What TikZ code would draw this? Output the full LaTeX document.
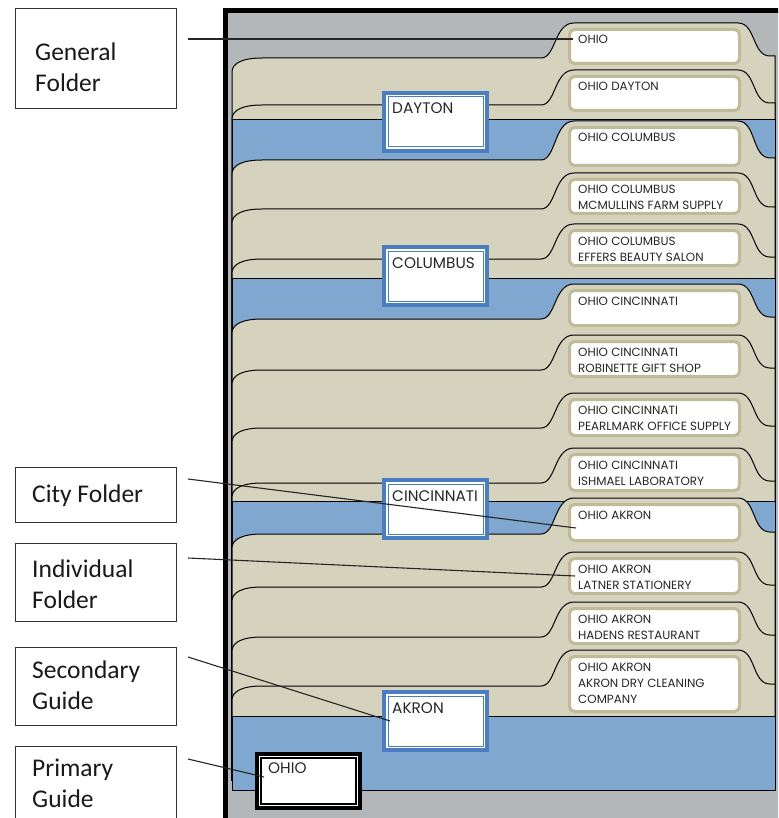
\documentclass[tikz,border=0pt]{standalone}
\usepackage{fontspec}
\setmainfont{Carlito}
\newfontfamily\geofont{Poppins}
\definecolor{bggray}{HTML}{B4B7B9}
\definecolor{foldertan}{HTML}{D5D3BD}
\definecolor{tabedge}{HTML}{BFBA97}
\definecolor{bandblue}{HTML}{80A7CF}
\definecolor{guideblue}{HTML}{4A7EC0}
% #1 body top, #2 tab top, #3 label bottom, #4 name, #5 text, #6 extra lines
\newcommand{\drawfolder}[6]{%
  \filldraw[folderfill] (232,780) -- (232,{#1+14}) .. controls (232,{#1+5}) and (243,#1) .. (262,#1)
    -- (541,#1) .. controls (556,#1) and (554,#2) .. (574,#2) -- (738,#2)
    .. controls (756,#2) and (752,{#1-2}) .. (770,{#1-2}) -- (775,{#1-2}) -- (775,780) -- cycle;
  \draw[tabbox] (569.5,{#2+6.5}) rectangle (739.5,{#3-1.5});
  \node[ftext] (#4) at (578,{#2+21+16*#6}) {#5};
}
\newcommand{\drawband}[1]{%
  \filldraw[bandfill] (232,#1) rectangle (775,790);
}
\newcommand{\drawguide}[3]{%
  \fill[guideblue] (382,#1) rectangle (489,{#1+62});
  \fill[white] (386,{#1+4}) rectangle (485,{#1+58});
  \draw[guideblue, line width=1pt] (388,{#1+6}) rectangle (483,{#1+56});
  \node[gtext] (#2) at (392,{#1+23}) {#3};
}
\begin{document}
\begin{tikzpicture}[x=1pt,y=-1pt,
  folderfill/.style={fill=foldertan, draw=black, line width=1pt},
  bandfill/.style={fill=bandblue, draw=black, line width=1pt},
  tabbox/.style={draw=tabedge, line width=3pt, fill=white, rounded corners=5pt},
  ftext/.style={font=\geofont\fontsize{11.9}{16}\selectfont, anchor=base west, inner sep=0pt, align=left, text=black!85},
  gtext/.style={font=\geofont\fontsize{15.3}{16}\selectfont, anchor=base west, inner sep=0pt, text=black!85},
  lblbox/.style={draw=black!80, line width=1pt, anchor=north west, inner sep=0pt},
  ltext/.style={font=\fontsize{25.5}{31}\selectfont, anchor=base west, inner sep=0pt, align=left, text=black!90},
  pointer/.style={draw=black!85, line width=1.1pt}]
\useasboundingbox (0,0) rectangle (778,818);
\clip (0,0) rectangle (778,818);
\fill[white] (0,0) rectangle (778,818);
% cabinet frame
\fill[bggray] (225.5,10.5) rectangle (800,840);
\draw[line width=5pt] (225.5,840) -- (225.5,10.5) -- (800,10.5);
% folders and guides
\drawfolder{58}{23}{65}{f1}{OHIO}{0}
\drawfolder{105}{70}{112}{f2}{OHIO DAYTON}{0}
\drawband{120}
\drawfolder{160}{121}{167}{f3}{OHIO COLUMBUS}{0}
\drawfolder{209}{173}{215}{f4}{OHIO COLUMBUS\\MCMULLINS FARM SUPPLY}{1}
\drawfolder{259}{224}{267}{f5}{OHIO COLUMBUS\\EFFERS BEAUTY SALON}{1}
\drawband{278}
\drawfolder{319}{284}{327}{f6}{OHIO CINCINNATI}{0}
\drawfolder{370}{335}{378}{f7}{OHIO CINCINNATI\\ROBINETTE GIFT SHOP}{1}
\drawfolder{428}{393}{437}{f8}{OHIO CINCINNATI\\PEARLMARK OFFICE SUPPLY}{1}
\drawfolder{483}{448}{492}{f9}{OHIO CINCINNATI\\ISHMAEL LABORATORY}{1}
\drawband{501}
\drawfolder{534}{498}{542}{f10}{OHIO AKRON}{0}
\drawfolder{587}{552}{595}{f11}{OHIO AKRON\\LATNER STATIONERY}{1}
\drawfolder{637}{602}{645}{f12}{OHIO AKRON\\HADENS RESTAURANT}{1}
\drawfolder{686}{650}{713}{f13}{OHIO AKRON\\AKRON DRY CLEANING\\COMPANY}{2}
\drawband{716}
% secondary guides
\drawguide{91}{gdayton}{DAYTON}
\drawguide{245}{gcolumbus}{COLUMBUS}
\drawguide{478}{gcincinnati}{CINCINNATI}
\drawguide{690}{gakron}{AKRON}
% primary guide
\fill[black] (255,752) rectangle (362,810);
\fill[white] (259,756) rectangle (358,806);
\draw[black, line width=1.2pt] (261,758) rectangle (356,804);
\node[gtext] (gohio) at (268,773) {OHIO};
% legend boxes
\node[lblbox, minimum width=161pt, minimum height=100pt] (bgen) at (15,8) {};
\node[ltext] (tgen) at (35,92) {General\\Folder};
\node[lblbox, minimum width=161pt, minimum height=55pt] (bcity) at (15,467) {};
\node[ltext] (tcity) at (32,502) {City Folder};
\node[lblbox, minimum width=161pt, minimum height=78pt] (bind) at (15,543) {};
\node[ltext] (tind) at (32,608) {Individual\\Folder};
\node[lblbox, minimum width=161pt, minimum height=78pt] (bsec) at (15,647) {};
\node[ltext] (tsec) at (32,709) {Secondary\\Guide};
\node[lblbox, minimum width=161pt, minimum height=100pt] (bpri) at (15,746) {};
\node[ltext] (tpri) at (32,807) {Primary\\Guide};
% pointer lines
\coordinate (pgen) at (188,39);   \coordinate (egen) at (573,39);
\coordinate (pcity) at (188,479); \coordinate (ecity) at (576,528);
\coordinate (pind) at (188,558);  \coordinate (eind) at (575,576);
\coordinate (psec) at (188,657);  \coordinate (esec) at (390,721);
\coordinate (ppri) at (188,759);  \coordinate (epri) at (264,777);
\draw[pointer] (pgen) -- (egen);
\draw[pointer] (pcity) -- (ecity);
\draw[pointer] (pind) -- (eind);
\draw[pointer] (psec) -- (esec);
\draw[pointer] (ppri) -- (epri);
\end{tikzpicture}
\end{document}
